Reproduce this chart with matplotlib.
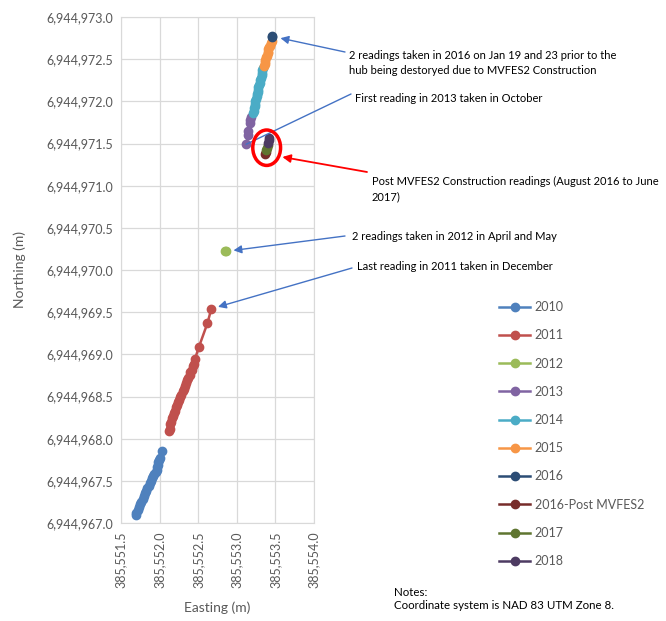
import matplotlib
matplotlib.use("Agg")
import matplotlib.pyplot as plt
from matplotlib.patches import Ellipse
from matplotlib.ticker import FuncFormatter, MultipleLocator

plt.rcParams['font.family'] = ['Lato', 'DejaVu Sans']

W, H = 666, 621

# survey hub positions by year (easting, northing in metres)
e2010 = [385551.69, 385551.70, 385551.72, 385551.73, 385551.75, 385551.76, 385551.78,
         385551.80, 385551.81, 385551.83, 385551.84, 385551.86, 385551.87, 385551.89,
         385551.90, 385551.92, 385551.93, 385551.95, 385551.96, 385551.97, 385551.98,
         385551.98, 385551.99, 385552.00, 385552.03]
n2010 = [6944967.09, 6944967.12, 6944967.16, 6944967.19, 6944967.22, 6944967.25, 6944967.28,
         6944967.32, 6944967.35, 6944967.38, 6944967.41, 6944967.44, 6944967.47, 6944967.50,
         6944967.53, 6944967.56, 6944967.58, 6944967.61, 6944967.63, 6944967.66, 6944967.69,
         6944967.72, 6944967.75, 6944967.77, 6944967.85]

e2011 = [385552.12, 385552.13, 385552.14, 385552.15, 385552.16, 385552.17, 385552.19,
         385552.20, 385552.21, 385552.23, 385552.24, 385552.25, 385552.27, 385552.28,
         385552.30, 385552.31, 385552.33, 385552.34, 385552.36, 385552.37, 385552.39,
         385552.40, 385552.42, 385552.43, 385552.45, 385552.46, 385552.51, 385552.62,
         385552.67]
n2011 = [6944968.09, 6944968.12, 6944968.17, 6944968.20, 6944968.24, 6944968.27, 6944968.30,
         6944968.33, 6944968.37, 6944968.40, 6944968.43, 6944968.46, 6944968.49, 6944968.52,
         6944968.56, 6944968.59, 6944968.62, 6944968.66, 6944968.69, 6944968.72, 6944968.76,
         6944968.79, 6944968.82, 6944968.86, 6944968.89, 6944968.95, 6944969.09, 6944969.37,
         6944969.54]

e2012 = [385552.85, 385552.86]
n2012 = [6944970.22, 6944970.23]

e2013 = [385553.12, 385553.15, 385553.15, 385553.17, 385553.17, 385553.19]
n2013 = [6944971.49, 6944971.60, 6944971.65, 6944971.74, 6944971.78, 6944971.81]

e2014 = [385553.21, 385553.22, 385553.22, 385553.23, 385553.24, 385553.24, 385553.25,
         385553.26, 385553.26, 385553.27, 385553.28, 385553.28, 385553.29, 385553.30,
         385553.30, 385553.31, 385553.32, 385553.32, 385553.33, 385553.34]
n2014 = [6944971.86, 6944971.89, 6944971.92, 6944971.95, 6944971.97, 6944972.00, 6944972.03,
         6944972.06, 6944972.09, 6944972.11, 6944972.14, 6944972.17, 6944972.19, 6944972.22,
         6944972.25, 6944972.28, 6944972.31, 6944972.34, 6944972.37, 6944972.40]

e2015 = [385553.35, 385553.36, 385553.36, 385553.37, 385553.38, 385553.39, 385553.40,
         385553.40, 385553.41, 385553.42, 385553.43, 385553.44, 385553.45]
n2015 = [6944972.42, 6944972.44, 6944972.47, 6944972.49, 6944972.52, 6944972.54, 6944972.57,
         6944972.59, 6944972.62, 6944972.64, 6944972.66, 6944972.69, 6944972.71]

e2016 = [385553.455, 385553.46]
n2016 = [6944972.76, 6944972.77]

e2016p = [385553.37, 385553.38]
n2016p = [6944971.38, 6944971.40]

e2017 = [385553.38, 385553.39, 385553.40]
n2017 = [6944971.42, 6944971.45, 6944971.48]

e2018 = [385553.41, 385553.42, 385553.42]
n2018 = [6944971.51, 6944971.54, 6944971.57]

labels = ['2010', '2011', '2012', '2013', '2014', '2015', '2016', '2016-Post MVFES2', '2017', '2018']
colors = ['#4F81BD', '#C0504D', '#9BBB59', '#8064A2', '#4BACC6', '#F79646',
          '#2C4D75', '#772C2A', '#5F7530', '#4D3B62']
series = [(e2010, n2010), (e2011, n2011), (e2012, n2012), (e2013, n2013), (e2014, n2014),
          (e2015, n2015), (e2016, n2016), (e2016p, n2016p), (e2017, n2017), (e2018, n2018)]


def fig_xy(px, py):
    return px / W, 1 - py / H


fig = plt.figure(figsize=(W / 100, H / 100), dpi=100)
ax = fig.add_axes([121 / W, 1 - 523 / H, (314 - 121) / W, (523 - 17) / H])

for (e, n), lab, c in zip(series, labels, colors):
    ax.plot(e, n, '-o', color=c, lw=1.8, ms=6, label=lab)

ax.set_xlim(385551.5, 385554.0)
ax.set_ylim(6944967.0, 6944973.0)
ax.xaxis.set_major_locator(MultipleLocator(0.5))
ax.yaxis.set_major_locator(MultipleLocator(0.5))
fmt = FuncFormatter(lambda v, p: f"{v:,.1f}")
ax.xaxis.set_major_formatter(fmt)
ax.yaxis.set_major_formatter(fmt)
ax.grid(True, color='#D9D9D9', lw=0.9)
ax.set_axisbelow(True)
for s in ax.spines.values():
    s.set_color('#D9D9D9')
ax.tick_params(length=0, labelsize=9, labelcolor='#595959', pad=6)
for t in ax.get_xticklabels():
    t.set_rotation(90)
ax.set_xlabel('Easting (m)', fontsize=10, color='#595959', labelpad=10)
ax.set_ylabel('Northing (m)', fontsize=10, color='#595959', labelpad=14)

# circle around the post-construction readings
ax.add_patch(Ellipse((385553.387, 6944971.45), 0.36, 0.42, fill=False,
                     ec='#FF0000', lw=2.5, zorder=5))

blue = '#4472C4'
notes = [
    ("2 readings taken in 2016 on Jan 19 and 23 prior to the\nhub being destoryed due to MVFES2 Construction",
     (e2016[1], n2016[1]), (345, 52), (349, 63), blue, '-|>', 6),
    ("First reading in 2013 taken in October",
     (e2013[0], n2013[0]), (351, 94), (355, 98), blue, '-', 0),
    ("Post MVFES2 Construction readings (August 2016 to June\n2017)",
     (385553.59, 6944971.34), (367, 172), (372, 189), '#FF0000', '-|>', 0),
    ("2 readings taken in 2012 in April and May",
     (e2012[0], n2012[0]), (345, 236), (352, 236), blue, '-|>', 6),
    ("Last reading in 2011 taken in December",
     (e2011[-1], n2011[-1]), (352, 268), (357, 267), blue, '-|>', 5),
]
for txt, xy, start, tpos, c, style, shrink in notes:
    ax.annotate('', xy=xy, xycoords='data', xytext=fig_xy(*start), textcoords='figure fraction',
                arrowprops=dict(arrowstyle=style, color=c, lw=1.3 if c == '#FF0000' else 1.0,
                                shrinkA=0, shrinkB=shrink, mutation_scale=12),
                annotation_clip=False)
    fig.text(*fig_xy(*tpos), txt, fontsize=8, color='black', ha='left', va='center',
             linespacing=1.5)

leg = ax.legend(loc='upper left', bbox_to_anchor=fig_xy(494, 296), bbox_transform=fig.transFigure,
                frameon=False, fontsize=9, labelspacing=1.3, handlelength=2.5,
                handletextpad=0.35, borderaxespad=0)
for t in leg.get_texts():
    t.set_color('#595959')

fig.text(*fig_xy(394, 599), "Notes:\nCoordinate system is NAD 83 UTM Zone 8.", fontsize=8.3,
         ha='left', va='center', linespacing=1.3)

fig.savefig('out.png', dpi=100)
